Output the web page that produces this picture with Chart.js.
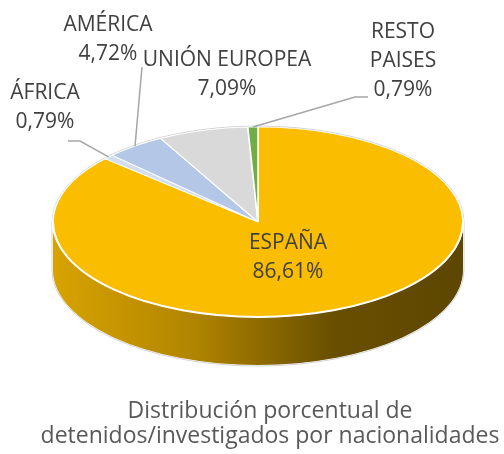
<!DOCTYPE html>
<html lang="es">
<head>
<meta charset="UTF-8">
<title>Detenidos por nacionalidades</title>
<script src="https://cdn.jsdelivr.net/npm/chart.js"></script>
<style>
  html, body { margin: 0; padding: 0; background: #fff; }
  canvas { display: block; }
</style>
</head>
<body>
<canvas id="pie" width="504" height="454"></canvas>
<script>
// data
const regions = ['ESPAÑA', 'ÁFRICA', 'AMÉRICA', 'UNIÓN EUROPEA', 'RESTO PAISES'];
const labelLines = [['ESPAÑA'], ['ÁFRICA'], ['AMÉRICA'], ['UNIÓN EUROPEA'], ['RESTO', 'PAISES']];
const shares = [86.61, 0.79, 4.72, 7.09, 0.79];
const sliceColors = ['#fbbd00', '#d3def1', '#b4c7e7', '#d9d9d9', '#70ad47'];
const titleLines = ['Distribución porcentual de', 'detenidos/investigados por nacionalidades'];

// the flattened disc
const CX = 258, CY = 222, RX = 205, RY = 95, DEPTH = 48;
const FONT = '"Open Sans", sans-serif';

// where each label block sits (centre x, first line y) and its leader bends
const labelPos = [
  { x: 288, y: 243, leader: null },
  { x: 45, y: 93, leader: [[68, 141], [80, 141]] },
  { x: 108, y: 25, leader: [[142, 67]] },
  { x: 227, y: 60, leader: null },
  { x: 403, y: 32, leader: [[368, 97], [355, 97]] }
];

function shade(hex, f) {
  const n = parseInt(hex.slice(1), 16);
  const r = Math.round(((n >> 16) & 255) * f);
  const g = Math.round(((n >> 8) & 255) * f);
  const b = Math.round((n & 255) * f);
  return `rgb(${r},${g},${b})`;
}

function fmt(v) {
  return v.toFixed(2).replace('.', ',') + '%';
}

const tilt = {
  id: 'tilt',
  beforeDatasetsDraw(chart) {
    const ctx = chart.ctx;
    const arcs = chart.getDatasetMeta(0).data;

    // side wall under the front half
    ctx.save();
    arcs.forEach((arc, i) => {
      let s = arc.startAngle, e = arc.endAngle;
      // angles run from -PI/2; the visible wall is 0..PI
      const segs = [];
      [[0, Math.PI], [2 * Math.PI, 3 * Math.PI]].forEach(([a, b]) => {
        const lo = Math.max(s, a), hi = Math.min(e, b);
        if (hi > lo) segs.push([lo - a, hi - a]);
      });
      segs.forEach(([lo, hi]) => {
        const grad = ctx.createLinearGradient(CX - RX, 0, CX + RX, 0);
        grad.addColorStop(0, shade(sliceColors[i], 0.86));
        grad.addColorStop(0.35, shade(sliceColors[i], 0.7));
        grad.addColorStop(0.68, shade(sliceColors[i], 0.42));
        grad.addColorStop(1, shade(sliceColors[i], 0.37));
        ctx.beginPath();
        ctx.ellipse(CX, CY, RX, RY, 0, lo, hi, false);
        ctx.lineTo(CX + RX * Math.cos(hi), CY + DEPTH + RY * Math.sin(hi));
        ctx.ellipse(CX, CY + DEPTH, RX, RY, 0, hi, lo, true);
        ctx.closePath();
        ctx.fillStyle = grad;
        ctx.fill();
      });
    });
    // faint outline round the silhouette
    ctx.beginPath();
    ctx.ellipse(CX, CY, RX + 1, RY + 1, 0, Math.PI, 2 * Math.PI, false);
    ctx.lineTo(CX + RX + 1, CY + DEPTH);
    ctx.ellipse(CX, CY + DEPTH, RX + 1, RY + 1, 0, 0, Math.PI, false);
    ctx.closePath();
    ctx.strokeStyle = '#d4d4d4';
    ctx.lineWidth = 1;
    ctx.stroke();
    ctx.restore();

    // squash the round pie onto the ellipse
    const a0 = arcs[0];
    const r0 = a0.outerRadius;
    ctx.save();
    ctx.translate(CX, CY);
    ctx.scale(RX / r0, RY / r0);
    ctx.translate(-a0.x, -a0.y);
  },
  afterDatasetsDraw(chart) {
    const ctx = chart.ctx;
    ctx.restore();

    // white rim between top face and side
    ctx.save();
    ctx.beginPath();
    ctx.ellipse(CX, CY, RX, RY, 0, 0, Math.PI, false);
    ctx.strokeStyle = '#ffffff';
    ctx.lineWidth = 2;
    ctx.stroke();
    ctx.restore();

    // labels and leader lines
    const arcs = chart.getDatasetMeta(0).data;
    ctx.save();
    ctx.font = `21px ${FONT}`;
    ctx.fillStyle = '#404040';
    ctx.textAlign = 'center';
    ctx.textBaseline = 'middle';
    labelPos.forEach((p, i) => {
      const lines = labelLines[i].concat([fmt(shares[i])]);
      lines.forEach((t, k) => ctx.fillText(t, p.x, p.y + k * 29));
      if (p.leader) {
        const arc = arcs[i];
        const mid = (arc.startAngle + arc.endAngle) / 2;
        ctx.beginPath();
        ctx.moveTo(p.leader[0][0], p.leader[0][1]);
        p.leader.slice(1).forEach(pt => ctx.lineTo(pt[0], pt[1]));
        ctx.lineTo(CX + RX * Math.cos(mid), CY + RY * Math.sin(mid));
        ctx.strokeStyle = '#a6a6a6';
        ctx.lineWidth = 1.5;
        ctx.stroke();
      }
    });
    ctx.restore();
  }
};

new Chart(document.getElementById('pie'), {
  type: 'pie',
  data: {
    labels: regions,
    datasets: [{
      data: shares,
      backgroundColor: sliceColors,
      borderColor: '#ffffff',
      borderWidth: 1.5
    }]
  },
  options: {
    responsive: false,
    animation: false,
    layout: { padding: { left: 36 } },
    plugins: {
      legend: { display: false },
      tooltip: { enabled: false },
      title: {
        display: true,
        position: 'bottom',
        text: titleLines,
        color: '#595959',
        font: { family: FONT, size: 23, weight: 'normal', lineHeight: 1.1 },
        padding: { top: 0, bottom: 5 }
      }
    }
  },
  plugins: [tilt]
});
</script>
</body>
</html>
